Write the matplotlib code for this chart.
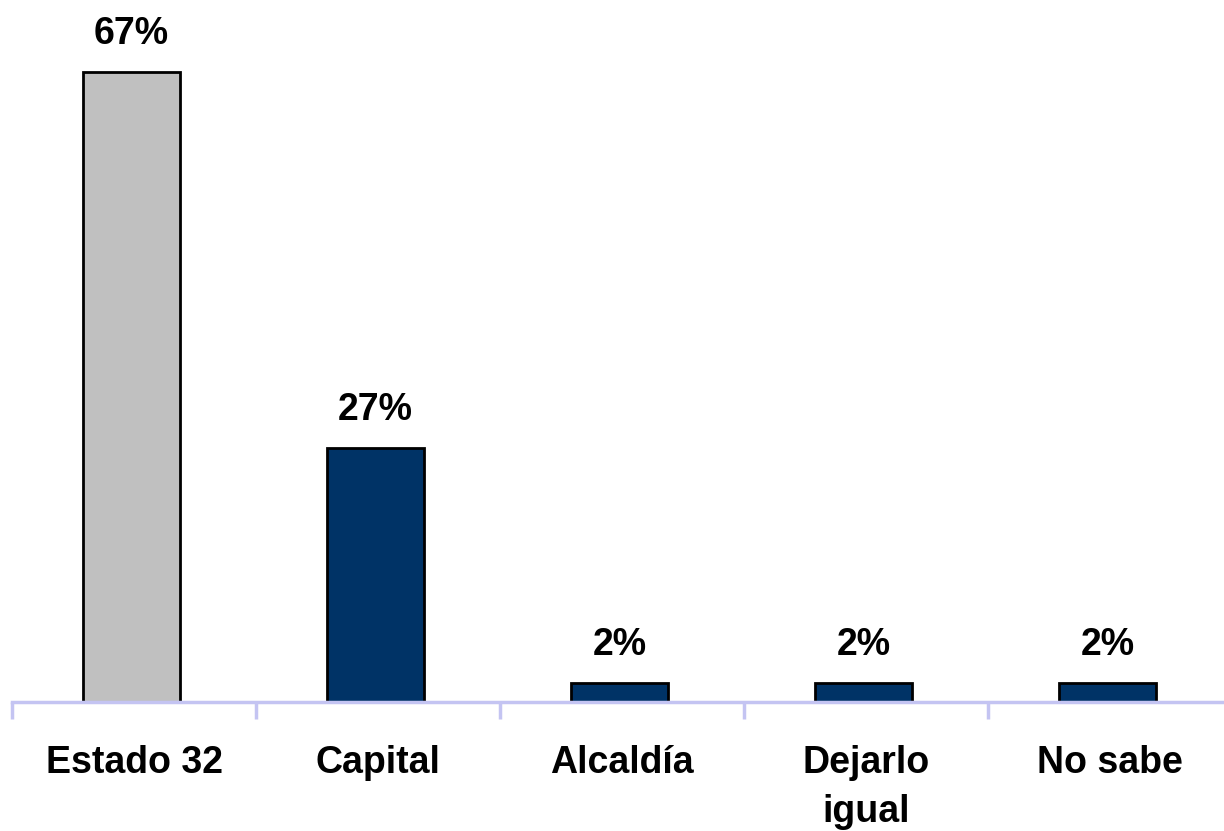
import matplotlib
matplotlib.use("Agg")
import matplotlib.pyplot as plt

categories = ["Estado 32", "Capital", "Alcaldía", "Dejarlo\nigual", "No sabe"]
values = [67, 27, 2, 2, 2]
labels = ["67%", "27%", "2%", "2%", "2%"]
colors = ["#C0C0C0", "#003366", "#003366", "#003366", "#003366"]

plt.rcParams['font.family'] = ['Liberation Sans', 'DejaVu Sans']

W, H = 1224, 831
fig = plt.figure(figsize=(W/100, H/100), dpi=100)
x0, x1 = 12/W, 1232/W
yb = 1 - 702/H
ax = fig.add_axes([x0, yb, x1 - x0, 1 - yb])
ax.set_xlim(-0.5, len(categories) - 0.5)
ax.set_ylim(0, 702/9.4)

pos = list(range(len(categories)))
ax.bar([p - 0.01 for p in pos], values, width=0.395, color=colors, edgecolor="black", linewidth=2, zorder=3)
for p, v, l in zip(pos, values, labels):
    ax.text(p - 0.01, v + 3.0, l, ha="center", va="baseline", fontsize=27, fontweight="bold")

for s in ["top", "right", "left"]:
    ax.spines[s].set_visible(False)
ax.spines["bottom"].set_color("#C4C4F2")
ax.spines["bottom"].set_linewidth(2.5)
ax.spines["bottom"].set_zorder(4)
ax.set_yticks([])
ax.set_xticks([i - 0.5 for i in range(len(categories) + 1)], minor=False)
ax.set_xticklabels([])
ax.tick_params(axis="x", which="major", length=12, width=2.5, color="#C4C4F2", direction="out")
ax.set_xticks(pos, minor=True)
ax.set_xticklabels(categories, minor=True, fontsize=27, fontweight="bold", linespacing=1.45)
ax.tick_params(axis="x", which="minor", length=0, pad=31)

fig.savefig("out.png", dpi=100)
